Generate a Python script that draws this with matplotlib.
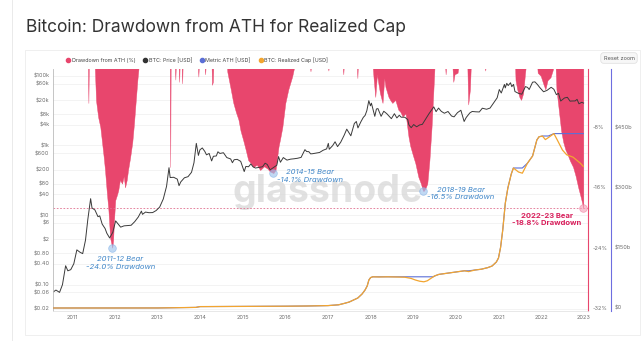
import numpy as np
import pandas as pd
import matplotlib
matplotlib.use("Agg")
import matplotlib.pyplot as plt
from matplotlib.lines import Line2D
from matplotlib.patches import Rectangle

plt.rcParams['font.family'] = ['Inter', 'DejaVu Sans']

# ---- data ----
price_dates = [
    "2010-07-18", "2010-08-15", "2010-09-15", "2010-10-10", "2010-11-06", "2010-11-25", "2010-12-20",
    "2011-01-15", "2011-02-10", "2011-03-10", "2011-04-01", "2011-04-25", "2011-05-15", "2011-06-08",
    "2011-06-20", "2011-07-15", "2011-08-10", "2011-08-25", "2011-09-15", "2011-10-10", "2011-10-25",
    "2011-11-18", "2011-12-15", "2012-01-08", "2012-01-30", "2012-02-20", "2012-03-20", "2012-04-20",
    "2012-05-20", "2012-06-20", "2012-07-20", "2012-08-16", "2012-08-25", "2012-09-20", "2012-10-20",
    "2012-11-20", "2012-12-20", "2013-01-20", "2013-02-20", "2013-03-20", "2013-04-10", "2013-04-20",
    "2013-05-20", "2013-06-20", "2013-07-05", "2013-07-20", "2013-08-20", "2013-09-20", "2013-10-20",
    "2013-11-10", "2013-11-30", "2013-12-18", "2013-12-31", "2014-01-20", "2014-02-10", "2014-02-25",
    "2014-03-20", "2014-04-10", "2014-04-25", "2014-05-20", "2014-06-03", "2014-06-20", "2014-07-20",
    "2014-08-18", "2014-09-20", "2014-10-05", "2014-10-20", "2014-11-15", "2014-12-15", "2015-01-14",
    "2015-01-28", "2015-02-20", "2015-03-12", "2015-03-30", "2015-04-20", "2015-05-20", "2015-06-20",
    "2015-07-12", "2015-07-30", "2015-08-24", "2015-09-20", "2015-10-20", "2015-11-04", "2015-11-20",
    "2015-12-15", "2016-01-15", "2016-02-15", "2016-03-15", "2016-04-15", "2016-05-15", "2016-06-17",
    "2016-07-02", "2016-07-20", "2016-08-05", "2016-08-20", "2016-09-20", "2016-10-20", "2016-11-20",
    "2016-12-20", "2017-01-04", "2017-01-12", "2017-02-10", "2017-03-03", "2017-03-24", "2017-04-20",
    "2017-05-20", "2017-06-11", "2017-07-16", "2017-08-15", "2017-09-01", "2017-09-15", "2017-10-10",
    "2017-10-31", "2017-11-15", "2017-11-30", "2017-12-17", "2017-12-31", "2018-01-08", "2018-01-20",
    "2018-02-06", "2018-02-20", "2018-03-05", "2018-04-01", "2018-04-24", "2018-05-20", "2018-06-28",
    "2018-07-24", "2018-08-14", "2018-09-04", "2018-09-20", "2018-10-20", "2018-11-15", "2018-11-25",
    "2018-12-15", "2019-01-05", "2019-01-30", "2019-02-25", "2019-03-20", "2019-04-10", "2019-05-15",
    "2019-06-26", "2019-07-16", "2019-08-06", "2019-08-30", "2019-09-25", "2019-10-26", "2019-11-25",
    "2019-12-17", "2020-01-15", "2020-02-13", "2020-03-12", "2020-03-30", "2020-04-30", "2020-05-20",
    "2020-06-20", "2020-07-20", "2020-08-15", "2020-09-20", "2020-10-20", "2020-11-15", "2020-12-01",
    "2020-12-20", "2021-01-08", "2021-01-25", "2021-02-21", "2021-02-28", "2021-03-13", "2021-03-25",
    "2021-04-14", "2021-04-25", "2021-05-10", "2021-05-22", "2021-06-21", "2021-07-20", "2021-08-20",
    "2021-09-07", "2021-09-21", "2021-10-20", "2021-11-09", "2021-11-30", "2021-12-20", "2022-01-22",
    "2022-02-20", "2022-03-28", "2022-04-20", "2022-05-12", "2022-05-30", "2022-06-18", "2022-07-20",
    "2022-08-14", "2022-09-06", "2022-09-20", "2022-10-20", "2022-11-05", "2022-11-21", "2022-12-15",
    "2022-12-31",
]
price_usd = [
    0.06, 0.07, 0.06, 0.1, 0.35, 0.25, 0.27,
    0.4, 1.0, 0.85, 0.78, 1.9, 7.5, 29.6,
    16, 14, 9, 9.5, 5.5, 4.1, 3.0,
    2.2, 3.2, 6.8, 5.5, 4.5, 4.9, 5.0,
    5.1, 6.5, 8.8, 13, 10.5, 12.2, 11.7,
    11.8, 13.5, 17, 29, 67, 230, 120,
    122, 108, 70, 90, 118, 127, 170,
    320, 1150, 520, 750, 850, 680, 540,
    590, 360, 490, 500, 660, 590, 620,
    450, 410, 320, 390, 400, 350, 178,
    250, 245, 295, 245, 225, 235, 245,
    310, 285, 200, 230, 270, 480, 330,
    450, 380, 405, 415, 430, 455, 760,
    670, 665, 575, 580, 605, 630, 730,
    800, 1150, 780, 990, 1280, 930, 1240,
    1980, 2950, 1900, 4300, 4900, 3200, 4800,
    6450, 7300, 10000, 19400, 13800, 16500, 11500,
    6900, 11200, 11500, 6900, 9650, 8200, 5900,
    8200, 6200, 7400, 6500, 6500, 5600, 3900,
    3250, 4000, 3450, 3900, 4050, 5250, 8100,
    12900, 9400, 11900, 9550, 8450, 9500, 7050,
    6650, 8800, 10300, 4900, 6400, 8650, 9500,
    9300, 9200, 11800, 11000, 11900, 16000, 19000,
    23500, 40600, 32300, 57000, 45200, 61200, 52800,
    63500, 49100, 57000, 35600, 31600, 29800, 49300,
    46800, 40600, 66000, 67500, 57000, 46700, 35000,
    38300, 47100, 41400, 28900, 31700, 19000, 23200,
    24300, 18800, 19000, 19100, 21200, 15800, 17400,
    16550,
]

# realized cap drawdown from ATH (%), by decimal year
dd_year = [
    2010.55, 2011.37, 2011.38, 2011.39,
    2011.53, 2011.54, 2011.56, 2011.61, 2011.66, 2011.70, 2011.74, 2011.77, 2011.81, 2011.85,
    2011.89, 2011.94, 2011.96, 2011.98, 2012.01, 2012.05, 2012.08, 2012.12, 2012.17, 2012.21,
    2012.24, 2012.28, 2012.31, 2012.36, 2012.41, 2012.45, 2012.48, 2012.53, 2012.56,
    2013.29, 2013.30, 2013.31, 2013.41, 2013.42, 2013.43, 2013.50, 2013.51, 2013.52,
    2013.57, 2013.58, 2013.59, 2013.95, 2013.96, 2013.97, 2014.11, 2014.12, 2014.13,
    2014.27, 2014.28, 2014.30, 2014.31,
    2014.63, 2014.64, 2014.71, 2014.78, 2014.84, 2014.90, 2014.95, 2015.01, 2015.07, 2015.13,
    2015.19, 2015.25, 2015.33, 2015.41, 2015.50, 2015.58, 2015.64, 2015.72, 2015.77, 2015.84,
    2015.88, 2015.93, 2016.00, 2016.07, 2016.16, 2016.21,
    2016.58, 2016.59, 2016.60, 2017.00, 2017.01, 2017.02, 2017.35, 2017.36, 2017.37,
    2017.68, 2017.69, 2017.70,
    2018.05, 2018.07, 2018.11, 2018.15, 2018.18, 2018.22, 2018.28, 2018.32, 2018.35, 2018.42,
    2018.47, 2018.51, 2018.58, 2018.65, 2018.70, 2018.75, 2018.82, 2018.89, 2018.93, 2018.98,
    2019.05, 2019.12, 2019.18, 2019.22, 2019.24, 2019.28, 2019.33, 2019.38, 2019.43, 2019.47,
    2019.50,
    2019.75, 2019.76, 2019.77, 2019.92, 2019.94, 2019.97, 2020.04, 2020.06,
    2020.27, 2020.29, 2020.31, 2020.33, 2020.35, 2020.68, 2020.69, 2020.70,
    2021.39, 2021.40, 2021.44, 2021.49, 2021.53, 2021.58, 2021.62, 2021.64,
    2021.91, 2021.92, 2021.99, 2022.06, 2022.10, 2022.15, 2022.22, 2022.27, 2022.29,
    2022.34, 2022.36, 2022.42, 2022.47, 2022.52, 2022.57, 2022.61, 2022.68, 2022.75, 2022.81,
    2022.87, 2022.93, 2022.96, 2022.99,
]
dd_pct = [
    0, 0, -4.8, 0,
    0, -1.5, -4.5, -6.7, -8.0, -10.0, -12.0, -13.7, -16.5, -19.0,
    -22.7, -24.0, -23.0, -20.5, -17.7, -17.0, -16.4, -15.0, -15.5, -14.5,
    -16.0, -15.0, -13.7, -12.0, -10.0, -7.5, -5.3, -1.7, 0,
    0, -13.3, 0, 0, -1.7, 0, 0, -2.0, 0,
    0, -2.2, 0, 0, -1.3, 0, 0, -1.0, 0,
    0, -2.4, -2.0, 0,
    0, -0.7, -2.7, -4.8, -6.0, -7.0, -8.5, -9.7, -11.0, -12.4,
    -12.8, -13.3, -13.0, -13.7, -13.2, -13.5, -13.9, -14.1, -13.7, -10.6,
    -9.5, -8.0, -4.8, -3.0, -1.3, 0,
    0, -0.6, 0, 0, -0.5, 0, 0, -1.0, 0,
    0, -1.5, 0,
    0, -1.5, -4.0, -1.0, -2.1, -3.5, -4.8, -1.5, -2.7, -4.0,
    -4.5, -4.8, -4.4, -5.7, -6.0, -6.6, -6.2, -9.3, -10.5, -11.5,
    -12.8, -14.6, -15.5, -16.3, -16.5, -16.2, -15.5, -12.4, -8.0, -3.5,
    0,
    0, -1.0, 0, 0, -2.0, -1.0, -0.8, 0,
    0, -5.0, -4.0, -3.0, 0, 0, -0.5, 0,
    0, -1.8, -3.0, -4.0, -4.4, -3.5, -1.0, 0,
    0, -0.8, -1.2, -2.4, -3.0, -1.8, -1.4, -0.5, 0,
    0, -3.0, -6.0, -8.5, -10.0, -11.0, -11.5, -12.5, -13.3, -14.5,
    -16.0, -17.3, -18.0, -18.8,
]

# realized cap ($ billions), by decimal year
rc_year = [
    2010.55, 2011.0, 2012.0, 2013.0, 2013.9, 2014.0, 2015.0, 2016.0, 2016.5, 2017.0,
    2017.25, 2017.4, 2017.5, 2017.6, 2017.7, 2017.8, 2017.87, 2017.92, 2017.96, 2018.0,
    2018.05, 2018.2, 2018.4, 2018.6, 2018.8, 2018.95, 2019.05, 2019.15, 2019.25, 2019.33,
    2019.4, 2019.47, 2019.5, 2019.6, 2019.8, 2020.0, 2020.2, 2020.3, 2020.45, 2020.6,
    2020.75, 2020.85, 2020.95, 2021.0, 2021.05, 2021.1, 2021.16, 2021.22, 2021.3, 2021.35,
    2021.47, 2021.56, 2021.68, 2021.8, 2021.9, 2021.95, 2022.03, 2022.1, 2022.17, 2022.3,
    2022.38, 2022.5, 2022.6, 2022.75, 2022.92, 2022.99,
]
rc_bn = [
    0.0, 0.01, 0.03, 0.1, 1.5, 3.5, 4.0, 4.5, 5.0, 6.0,
    8, 12, 15, 20, 25, 35, 45, 55, 70, 76,
    78, 77.5, 78, 77.5, 77, 74, 70, 67, 65.5, 68,
    73, 78, 80, 84, 87, 90, 93, 91, 95, 97,
    101, 105, 115, 125, 152, 195, 262, 300, 335, 350,
    340, 337, 362, 380, 420, 428, 430, 421, 426, 436,
    420, 395, 383, 377, 362, 354,
]
rc_ath = np.maximum.accumulate(rc_bn)

price_ticks = [100000, 60000, 20000, 8000, 4000, 1000, 600, 200, 80, 40, 10, 6, 2, 0.8, 0.4, 0.1, 0.06, 0.02]
price_labels = ['$100k', '$60k', '$20k', '$8k', '$4k', '$1k', '$600', '$200', '$80', '$40',
                '$10', '$6', '$2', '$0.80', '$0.40', '$0.10', '$0.06', '$0.02']
dd_ticks = [-8, -16, -24, -32]
rc_ticks = [450, 300, 150, 0]
rc_labels = ['$450b', '$300b', '$150b', '$0']
years = list(range(2011, 2024))

bears = [
    ("2011-12 Bear", 2011.94, -24.0),
    ("2014-15 Bear", 2015.72, -14.1),
    ("2018-19 Bear", 2019.24, -16.5),
    ("2022-23 Bear", 2022.99, -18.8),
]

# colours
PINK = '#e8466d'
BLUE_TXT = '#3f86c8'
TICK = '#707070'

d = pd.to_datetime(price_dates)
price_year = d.year + (d.dayofyear - 1) / 365.25

fig = plt.figure(figsize=(6.43, 3.41), dpi=100)
W, H = 643, 341

# page furniture
fig.add_artist(Line2D([12 / W, 12 / W], [0, 1], color='#e6e6e6', lw=0.6))
fig.add_artist(Rectangle((25 / W, 1 - 335 / H), 615 / W, 285 / H, fill=False,
                         edgecolor='#ececec', lw=0.6))
fig.text(26 / W, 1 - 27 / H, "Bitcoin: Drawdown from ATH for Realized Cap",
         fontsize=12.5, color='#333333', va='center')
fig.text(619 / W, 1 - 58 / H, "Reset zoom", fontsize=4.0, color='#555555', ha='center', va='center',
         bbox=dict(boxstyle='round,pad=0.5', fc='#f7f7f7', ec='#dddddd', lw=0.5))

rect = [53 / W, 1 - 311 / H, 535 / W, 242 / H]
xlim = (2010.55, 2023.1)

# grid layer
ax_grid = fig.add_axes(rect)
ax_grid.set_yscale('log')
ax_grid.set_ylim(0.0175, 158000)
ax_grid.set_xlim(*xlim)
ax_grid.set_yticks(price_ticks)
ax_grid.yaxis.set_minor_locator(matplotlib.ticker.NullLocator())
ax_grid.grid(axis='y', color='#eeeeee', lw=0.5)
ax_grid.tick_params(left=False, bottom=False, labelleft=False, labelbottom=False)
for s in ax_grid.spines.values():
    s.set_visible(False)

# drawdown layer
ax_dd = fig.add_axes(rect)
ax_dd.patch.set_alpha(0)
ax_dd.set_xlim(*xlim)
ax_dd.set_ylim(-32.4, -0.3)
ax_dd.fill_between(dd_year, 0, dd_pct, color=PINK, lw=0.3, edgecolor=PINK)
ax_dd.axhline(-18.8, color='#e0708f', lw=0.6, ls=(0, (2, 2)))
ax_dd.yaxis.tick_right()
ax_dd.set_yticks(dd_ticks)
ax_dd.set_yticklabels([f"{t}%" for t in dd_ticks])
ax_dd.tick_params(axis='y', length=0, pad=3.5, labelsize=4.0, labelcolor=TICK)
ax_dd.tick_params(axis='x', bottom=False, labelbottom=False)
for k in ['left', 'top', 'bottom']:
    ax_dd.spines[k].set_visible(False)
ax_dd.spines['right'].set_color(PINK)
ax_dd.spines['right'].set_linewidth(0.8)

ax_dd.text(0.513, 0.49, "glassnode", transform=ax_dd.transAxes, fontsize=27, color='#d8d8d8',
           alpha=0.75, ha='center', va='center', fontweight='bold', zorder=0)

# price layer
ax_p = fig.add_axes(rect)
ax_p.patch.set_alpha(0)
ax_p.set_yscale('log')
ax_p.set_ylim(0.0175, 158000)
ax_p.set_xlim(*xlim)
ax_p.plot(price_year, price_usd, color='#3a3a3a', lw=0.7)
ax_p.set_yticks(price_ticks)
ax_p.set_yticklabels(price_labels)
ax_p.yaxis.set_minor_locator(matplotlib.ticker.NullLocator())
ax_p.set_xticks(years)
ax_p.set_xticklabels([str(y) for y in years])
ax_p.tick_params(length=0, labelsize=4.0, labelcolor=TICK)
ax_p.tick_params(axis='y', pad=2.5)
ax_p.tick_params(axis='x', pad=3)
ax_p.spines['top'].set_visible(False)
ax_p.spines['right'].set_visible(False)
ax_p.spines['left'].set_color('#bbbbbb')
ax_p.spines['left'].set_linewidth(0.6)
ax_p.spines['bottom'].set_color('#e4e4e4')
ax_p.spines['bottom'].set_linewidth(0.6)

# realized cap layer
ax_rc = fig.add_axes(rect)
ax_rc.patch.set_alpha(0)
ax_rc.set_xlim(*xlim)
ax_rc.set_ylim(-7.5, 597.5)
ax_rc.plot(rc_year, rc_ath, color='#5b6fd6', lw=0.8)
ax_rc.plot(rc_year, rc_bn, color='#f2a530', lw=0.9)
ax_rc.yaxis.tick_right()
ax_rc.set_yticks(rc_ticks)
ax_rc.set_yticklabels(rc_labels)
ax_rc.tick_params(axis='y', length=0, pad=2.5, labelsize=4.0, labelcolor=TICK)
ax_rc.tick_params(axis='x', bottom=False, labelbottom=False)
for k in ['left', 'top', 'bottom']:
    ax_rc.spines[k].set_visible(False)
ax_rc.spines['right'].set_position(('outward', 16.5))
ax_rc.spines['right'].set_color('#6e6ee0')
ax_rc.spines['right'].set_linewidth(0.8)

# bear market annotations
ax_ann = fig.add_axes(rect, sharex=ax_dd, sharey=ax_dd)
ax_ann.set_axis_off()
offsets = [(0.19, -2.0), (0.87, -0.4), (0.87, -0.3), (-0.86, -1.45)]
for (name, yr, pct), (dx, dy) in zip(bears, offsets):
    last = name.startswith("2022")
    ax_ann.plot(yr, pct, 'o', ms=5.5, mfc='#f6a3bb' if last else '#9fc4ee', alpha=0.65,
                mec='#f07a9c' if last else '#7fb0e6', mew=0.5)
    ax_ann.text(yr + dx, pct + dy, f"{name}\n{pct:.1f}% Drawdown", ha='center', va='center',
                fontsize=5.5, linespacing=1.35,
                color='#d81e5b' if last else BLUE_TXT,
                fontweight='bold' if last else 'normal',
                fontstyle='normal' if last else 'italic')

# legend
handles = [
    Line2D([], [], ls='', marker='o', ms=3.0, color=PINK),
    Line2D([], [], ls='', marker='o', ms=3.0, color='#333333'),
    Line2D([], [], ls='', marker='o', ms=3.0, color='#5b6fd6'),
    Line2D([], [], ls='', marker='o', ms=3.0, color='#f2a530'),
]
labels = ["Drawdown from ATH (%)", "BTC: Price [USD]", "Metric ATH [USD]", "BTC: Realized Cap [USD]"]
fig.legend(handles, labels, loc='center left', bbox_to_anchor=(66 / W, 1 - 60 / H), ncol=4,
           frameon=False, fontsize=3.85, handletextpad=0.25, columnspacing=1.45, handlelength=0.8,
           labelcolor='#444444', borderaxespad=0, borderpad=0)

fig.savefig("out.png", dpi=100)
